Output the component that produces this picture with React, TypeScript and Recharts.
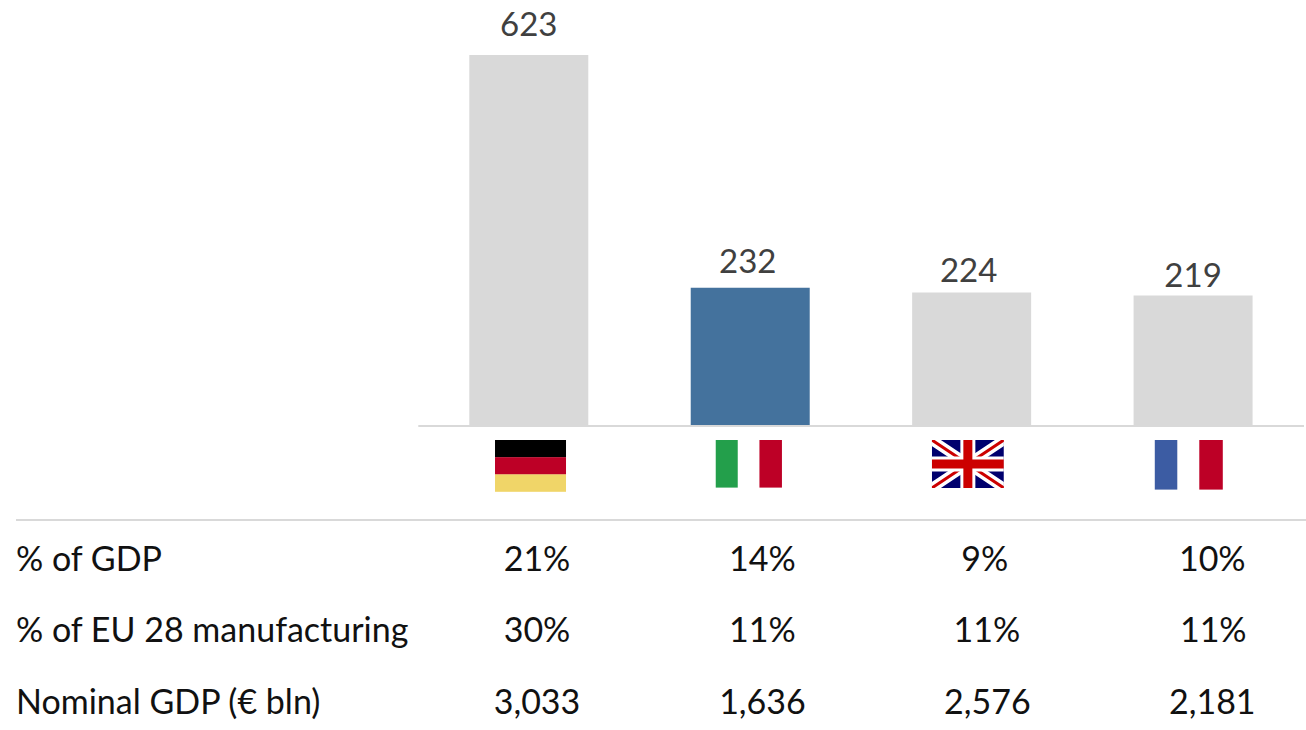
import React from "react";
import { BarChart, Bar, Cell, XAxis, YAxis, LabelList } from "recharts";

// Manufacturing value added by country, with context figures tabulated below each bar.
const countries = ["Germany", "Italy", "United Kingdom", "France"];
const manufacturing = [623, 232, 224, 219];
const shareOfGdp = ["21%", "14%", "9%", "10%"];
const shareOfEu = ["30%", "11%", "11%", "11%"];
const nominalGdp = ["3,033", "1,636", "2,576", "2,181"];
const rowLabels = ["% of GDP", "% of EU 28 manufacturing", "Nominal GDP (€ bln)"];
const highlighted = "Italy";

const chartData = countries.map((country, i) => ({ country, value: manufacturing[i] }));
const tableRows = [shareOfGdp, shareOfEu, nominalGdp];

const FONT = "Lato, Carlito, sans-serif";
const GREY = "#d9d9d9";
const BLUE = "#44729d";
const ROW_Y = [557.5, 628.5, 700.5];
const ROW_COLUMN_SHIFT = [
  [8, 12, 13, 19],
  [8, 12, 15, 20],
  [8, 12, 15.5, 19],
];
const LABEL_NUDGE = [
  { dx: 0, y: -32 },
  { dx: -2.5, y: -28 },
  { dx: -3, y: -23.5 },
  { dx: 0, y: -22 },
];
const TEXT_SIZE = 34;
const LABEL_SIZE = 33;

function Flag({ country, x }: { country: string; x: number }) {
  if (country === "Germany") {
    return (
      <g>
        <rect x={x - 34} y={440} width={71} height={17.4} fill="#000000" />
        <rect x={x - 34} y={457.2} width={71} height={17.4} fill="#bd0026" />
        <rect x={x - 34} y={474.4} width={71} height={17.4} fill="#f0d568" />
      </g>
    );
  }
  if (country === "Italy") {
    return (
      <g>
        <rect x={x - 34.7} y={440} width={22} height={47.6} fill="#239f4b" />
        <rect x={x + 9} y={440} width={22.5} height={47.6} fill="#bd0026" />
      </g>
    );
  }
  if (country === "France") {
    return (
      <g>
        <rect x={x - 38.5} y={440} width={22.5} height={49.6} fill="#3c5ca3" />
        <rect x={x + 6} y={440} width={23.5} height={49.6} fill="#bd0026" />
      </g>
    );
  }
  // Union Jack, clipped to its 72x48 field
  const x0 = x - 40;
  const x1 = x + 32;
  const y0 = 440;
  const y1 = 488;
  const cx = (x0 + x1) / 2;
  const cy = (y0 + y1) / 2;
  return (
    <g>
      <clipPath id="jack-field">
        <rect x={x0} y={y0} width={x1 - x0} height={y1 - y0} />
      </clipPath>
      <g clipPath="url(#jack-field)">
        <rect x={x0} y={y0} width={x1 - x0} height={y1 - y0} fill="#00006e" />
        <path d={`M${x0} ${y0}L${x1} ${y1}M${x1} ${y0}L${x0} ${y1}`} stroke="#ffffff" strokeWidth={10} />
        <path d={`M${x0} ${y0}L${x1} ${y1}M${x1} ${y0}L${x0} ${y1}`} stroke="#cc0000" strokeWidth={3} />
        <path d={`M${cx} ${y0}V${y1}M${x0} ${cy}H${x1}`} stroke="#ffffff" strokeWidth={15} />
        <path d={`M${cx} ${y0}V${y1}M${x0} ${cy}H${x1}`} stroke="#cc0000" strokeWidth={9} />
      </g>
    </g>
  );
}

function CountryTick({ x, index, payload }: any) {
  return (
    <g>
      <Flag country={payload.value} x={x} />
      {tableRows.map((row, r) => (
        <text
          key={r}
          x={x + ROW_COLUMN_SHIFT[r][index]}
          y={ROW_Y[r]}
          dominantBaseline="central"
          textAnchor="middle"
          fontFamily={FONT}
          fontSize={TEXT_SIZE}
          fill="#111111"
        >
          {row[index]}
        </text>
      ))}
    </g>
  );
}

function BarValue({ x, y, width, value, index }: any) {
  const nudge = LABEL_NUDGE[index];
  return (
    <text
      x={Number(x) + Number(width) / 2 + nudge.dx}
      y={Number(y) + nudge.y}
      dominantBaseline="central"
      textAnchor="middle"
      fontFamily={FONT}
      fontSize={LABEL_SIZE}
      fill="#404040"
    >
      {value}
    </text>
  );
}

export default function App() {
  return (
    <div style={{ position: "absolute", left: 0, top: 0, width: 1306, height: 730, background: "#ffffff" }}>
      <BarChart
        width={1306}
        height={730}
        data={chartData}
        margin={{ top: 9.17, right: 2, bottom: 0, left: 418.3 }}
        barCategoryGap={0}
      >
        <YAxis hide domain={[0, 700]} />
        <XAxis
          dataKey="country"
          height={304}
          interval={0}
          tickLine={false}
          tick={<CountryTick />}
          axisLine={{ stroke: GREY, strokeWidth: 2 }}
        />
        <Bar dataKey="value" barSize={119} isAnimationActive={false}>
          {chartData.map((d) => (
            <Cell key={d.country} fill={d.country === highlighted ? BLUE : GREY} />
          ))}
          <LabelList dataKey="value" content={<BarValue />} />
        </Bar>
        <line x1={16} x2={1306} y1={520} y2={520} stroke={GREY} strokeWidth={2} />
        {rowLabels.map((label, r) => (
          <text
            key={label}
            x={16}
            y={ROW_Y[r]}
            dominantBaseline="central"
            fontFamily={FONT}
            fontSize={TEXT_SIZE}
            fill="#111111"
          >
            {label}
          </text>
        ))}
      </BarChart>
    </div>
  );
}
